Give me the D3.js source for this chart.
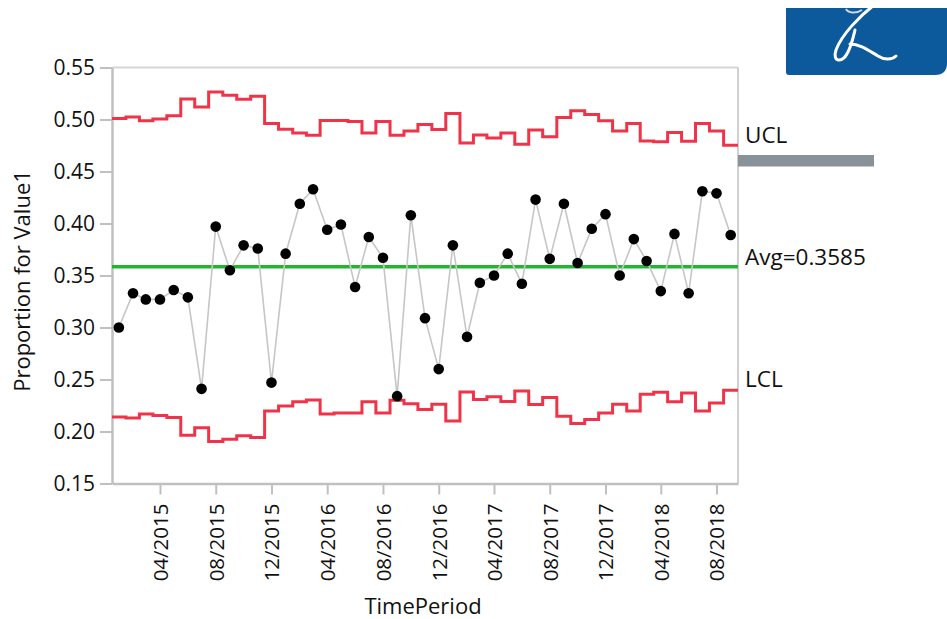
<!DOCTYPE html>
<html>
<head>
<meta charset="utf-8">
<script src="https://cdn.jsdelivr.net/npm/d3@7"></script>
<style>
  html, body { margin: 0; padding: 0; background: #fff; }
  svg { display: block; }
  text { font-family: "Open Sans", "Noto Sans", sans-serif; fill: #111; }
</style>
</head>
<body>
<svg id="chart" width="947" height="619"></svg>
<script>
// ---- DATA ----
const periods = ["01/2015","02/2015","03/2015","04/2015","05/2015","06/2015","07/2015","08/2015","09/2015","10/2015","11/2015","12/2015",
  "01/2016","02/2016","03/2016","04/2016","05/2016","06/2016","07/2016","08/2016","09/2016","10/2016","11/2016","12/2016",
  "01/2017","02/2017","03/2017","04/2017","05/2017","06/2017","07/2017","08/2017","09/2017","10/2017","11/2017","12/2017",
  "01/2018","02/2018","03/2018","04/2018","05/2018","06/2018","07/2018","08/2018","09/2018"];
const proportion = [0.300,0.333,0.327,0.327,0.336,0.329,0.241,0.397,0.355,0.379,0.376,0.247,
  0.371,0.419,0.433,0.394,0.399,0.339,0.387,0.367,0.234,0.408,0.309,0.260,
  0.379,0.291,0.343,0.350,0.371,0.342,0.423,0.366,0.419,0.362,0.395,0.409,
  0.350,0.385,0.364,0.335,0.390,0.333,0.431,0.429,0.389];
const ucl = [0.5010,0.5025,0.4987,0.5006,0.5035,0.5198,0.5121,0.5265,0.5234,0.5195,0.5224,0.4962,
  0.4907,0.4871,0.4849,0.4990,0.4990,0.4981,0.4871,0.4981,0.4849,0.4890,0.4952,0.4904,
  0.5058,0.4775,0.4852,0.4823,0.4871,0.4763,0.4900,0.4833,0.5019,0.5083,0.5048,0.4987,
  0.4890,0.4962,0.4794,0.4785,0.4875,0.4791,0.4962,0.4890,0.4753];
const lcl = [0.2140,0.2131,0.2169,0.2154,0.2135,0.1964,0.2035,0.1904,0.1926,0.1958,0.1942,0.2198,
  0.2246,0.2285,0.2304,0.2169,0.2179,0.2179,0.2285,0.2179,0.2301,0.2267,0.2212,0.2263,
  0.2102,0.2381,0.2308,0.2333,0.2288,0.2390,0.2260,0.2327,0.2147,0.2077,0.2115,0.2179,
  0.2263,0.2198,0.2359,0.2378,0.2285,0.2371,0.2198,0.2275,0.2397];
const average = 0.3585;
const xTickLabels = ["04/2015","08/2015","12/2015","04/2016","08/2016","12/2016","04/2017","08/2017","12/2017","04/2018","08/2018"];
const yTicks = [0.15,0.20,0.25,0.30,0.35,0.40,0.45,0.50,0.55];
const yTitle = "Proportion for Value1";
const xTitle = "TimePeriod";
const limitLabels = ["UCL", "Avg=0.3585", "LCL"];

// ---- LAYOUT ----
const svg = d3.select("#chart");
const L = 112, R = 738, T = 67.5, B = 483.5;
const parse = d3.timeParse("%m/%Y");
const dates = periods.map(parse);
const x = d3.scaleTime()
  .domain([new Date(2014, 11, 17), new Date(2018, 8, 17)])
  .range([L, R]);
const y = d3.scaleLinear().domain([0.15, 0.55]).range([B, T]);

// frame (top/right lighter)
svg.append("line").attr("x1", L).attr("x2", R).attr("y1", T).attr("y2", T)
  .attr("stroke", "#d6d6d6").attr("stroke-width", 2);
svg.append("line").attr("x1", R).attr("x2", R).attr("y1", T).attr("y2", B)
  .attr("stroke", "#d0d0d0").attr("stroke-width", 2);

// Y axis
const yAxis = svg.append("g").attr("transform", `translate(${L},0)`)
  .call(d3.axisLeft(y).tickValues(yTicks).tickFormat(d3.format(".2f")).tickSize(12).tickSizeOuter(0).tickPadding(5));
yAxis.select(".domain").attr("stroke", "#c0c0c0").attr("stroke-width", 2.5);
yAxis.selectAll(".tick line").attr("stroke", "#c0c0c0").attr("stroke-width", 2);
yAxis.selectAll(".tick text").attr("font-size", 21).attr("font-family", "Open Sans").attr("fill", "#111");

// X axis
const xAxis = svg.append("g").attr("transform", `translate(0,${B})`)
  .call(d3.axisBottom(x).tickValues(xTickLabels.map(parse)).tickFormat(d3.timeFormat("%m/%Y")).tickSize(11).tickSizeOuter(0));
xAxis.select(".domain").attr("stroke", "#c0c0c0").attr("stroke-width", 2.5);
xAxis.selectAll(".tick line").attr("stroke", "#c0c0c0").attr("stroke-width", 2);
xAxis.selectAll(".tick text")
  .attr("font-size", 20.5).attr("font-family", "Open Sans").attr("fill", "#111")
  .attr("transform", "rotate(-90)")
  .attr("text-anchor", "end")
  .attr("x", -20).attr("y", 0).attr("dy", "0.36em");

// step limit lines
function stepPoints(vals) {
  const pts = [];
  vals.forEach((v, i) => {
    const cx = x(dates[i]);
    const left = i === 0 ? L : (x(dates[i - 1]) + cx) / 2;
    const right = i === vals.length - 1 ? R : (cx + x(dates[i + 1])) / 2;
    pts.push([left, y(v)], [right, y(v)]);
  });
  return pts;
}
const lineGen = d3.line();
[ucl, lcl].forEach(vals => {
  svg.append("path").attr("d", lineGen(stepPoints(vals)))
    .attr("fill", "none").attr("stroke", "#ef3449").attr("stroke-width", 3)
    .attr("stroke-linejoin", "miter");
});

// average line
svg.append("line").attr("x1", L).attr("x2", R).attr("y1", y(average)).attr("y2", y(average))
  .attr("stroke", "#23b432").attr("stroke-width", 3.5);

// connecting line
svg.append("path")
  .attr("d", d3.line().x((d, i) => x(dates[i])).y(d => y(d))(proportion))
  .attr("fill", "none").attr("stroke", "#c6c6c6").attr("stroke-width", 1.6);

// points
svg.append("g").selectAll("circle").data(proportion).join("circle")
  .attr("cx", (d, i) => x(dates[i])).attr("cy", d => y(d)).attr("r", 5.3).attr("fill", "#000");

// limit labels
svg.append("text").attr("x", 745).attr("y", 143).attr("font-size", 22.5).text(limitLabels[0]);
svg.append("text").attr("x", 745).attr("y", 265).attr("font-size", 22.5).text(limitLabels[1]);
svg.append("text").attr("x", 745).attr("y", 387).attr("font-size", 22.5).text(limitLabels[2]);

// gray bar
svg.append("rect").attr("x", 738).attr("y", 155).attr("width", 136).attr("height", 11.5).attr("fill", "#899298");

// axis titles
svg.append("text").attr("transform", "translate(30,281) rotate(-90)")
  .attr("text-anchor", "middle").attr("font-size", 22).text(yTitle);
svg.append("text").attr("x", 423).attr("y", 614)
  .attr("text-anchor", "middle").attr("font-size", 22).text(xTitle);

// logo
const logo = svg.append("g");
logo.append("path")
  .attr("d", "M786,8 L947,8 L947,63 Q947,75 935,75 L789,75 Q786,75 786,72 Z")
  .attr("fill", "#0c5a9b");
logo.append("path")
  .attr("d", "M874,5 C860,16 842,34 836,50 C832,62 842,64 848,52 C852,44 853,38 855,30 M850,44 C860,44 868,50 878,56 C884,60 892,60 896,56")
  .attr("fill", "none").attr("stroke", "#fff").attr("stroke-width", 3).attr("stroke-linecap", "round");
logo.append("path")
  .attr("d", "M846,9 C848,13 856,14 862,10")
  .attr("fill", "none").attr("stroke", "#cfd8e3").attr("stroke-width", 2);
</script>
</body>
</html>
